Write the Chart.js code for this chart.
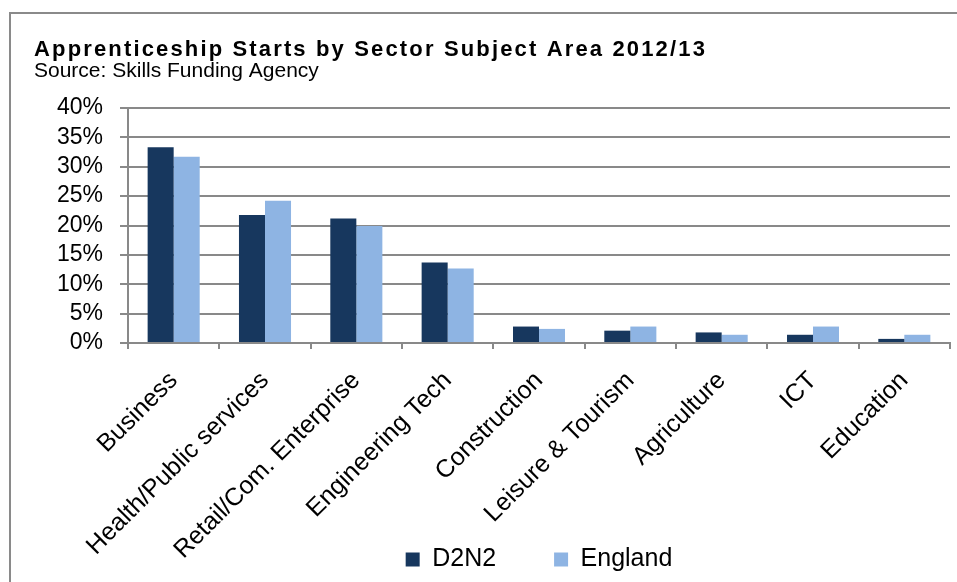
<!DOCTYPE html>
<html>
<head>
<meta charset="utf-8">
<title>Apprenticeship Starts by Sector Subject Area 2012/13</title>
<script src="https://cdn.jsdelivr.net/npm/chart.js@4.4.1/dist/chart.umd.min.js"></script>
<style>
  html, body { margin: 0; padding: 0; background: #fff; }
  #wrap { position: relative; width: 957px; height: 582px; overflow: hidden; }
  #frame {
    position: absolute; left: 9px; top: 12px; width: 1000px; height: 620px;
    border-top: 2px solid #8a8a8a; border-left: 2px solid #8a8a8a; background: #fff;
  }
  #main-chart { position: absolute; left: 0; top: 0; }
</style>
</head>
<body>
<div id="wrap">
  <div id="frame"></div>
  <canvas id="main-chart" width="957" height="582"></canvas>
</div>
<script>
// ── Data ──────────────────────────────────────────────────────────────────────
const categories = [
  "Business", "Health/Public services", "Retail/Com. Enterprise", "Engineering Tech",
  "Construction", "Leisure & Tourism", "Agriculture", "ICT", "Education"
];
const d2n2    = [33.3, 21.8, 21.2, 13.7, 2.8, 2.1, 1.8, 1.4, 0.7];
const england = [31.7, 24.2, 19.9, 12.7, 2.4, 2.8, 1.4, 2.8, 1.4];
const yTicks  = [0, 5, 10, 15, 20, 25, 30, 35, 40];

const FONT = "'Liberation Sans', Arial, sans-serif";
const GRID = "#898989";

// Title text is drawn with wider tracking, like the original workbook chart.
const spacedTitle = {
  id: "spacedTitle",
  beforeDraw(chart) {
    const block = chart.titleBlock;
    if (!block || block._spaced) return;
    const draw = block.draw.bind(block);
    block.draw = function () {
      const ctx = chart.ctx;
      ctx.save();
      ctx.letterSpacing = "2.15px";
      draw();
      ctx.letterSpacing = "0px";
      ctx.restore();
    };
    block._spaced = true;
  }
};

function renderChart() {
  const ctx = document.getElementById("main-chart");
  return new Chart(ctx, {
    type: "bar",
    data: {
      labels: categories,
      datasets: [
        { label: "D2N2",    data: d2n2,    backgroundColor: "#17375E" },
        { label: "England", data: england, backgroundColor: "#8EB4E3" },
      ],
    },
    plugins: [spacedTitle],
    options: {
      responsive: false,
      animation: false,
      devicePixelRatio: 1,
      layout: { padding: { left: 34, right: 7, top: 0, bottom: 0 } },
      datasets: { bar: { categoryPercentage: 0.57, barPercentage: 1.0 } },
      plugins: {
        tooltip: { enabled: false },
        title: {
          display: true,
          text: "Apprenticeship Starts by Sector Subject Area 2012/13",
          align: "start",
          color: "#000",
          font: { family: FONT, size: 22, weight: "bold", lineHeight: 1 },
          padding: { top: 39, bottom: 0 },
        },
        subtitle: {
          display: true,
          text: "Source: Skills Funding Agency",
          align: "start",
          color: "#000",
          font: { family: FONT, size: 21, lineHeight: 1 },
          padding: { top: 0, bottom: 26 },
        },
        legend: {
          position: "bottom",
          fullSize: false,
          labels: {
            color: "#000",
            boxWidth: 14,
            boxHeight: 14,
            padding: 58,
            font: { family: FONT, size: 25 },
          },
        },
      },
      scales: {
        x: {
          offset: true,
          grid: { drawOnChartArea: false, drawTicks: true, tickLength: 6, color: GRID, lineWidth: 2, offset: true },
          border: { color: GRID, width: 2 },
          ticks: {
            color: "#000", font: { family: FONT, size: 25 },
            minRotation: 45, maxRotation: 45, autoSkip: false, padding: 17,
          },
          afterFit(scale) {
            scale.height = 146;
            // long rotated names run past the axis box into the legend band
            scale._computeLabelArea = () => null;
          },
        },
        y: {
          min: 0, max: 40,
          afterBuildTicks(scale) { scale.ticks = yTicks.map(v => ({ value: v })); },
          grid: { color: GRID, lineWidth: 2, tickLength: 8 },
          border: { color: GRID, width: 2 },
          ticks: {
            color: "#000", font: { family: FONT, size: 23 }, padding: 17, autoSkip: false,
            callback: v => v + "%",
          },
          afterFit(scale) { scale.width = 94; },
        },
      },
    },
  });
}

document.addEventListener("DOMContentLoaded", renderChart);
</script>
</body>
</html>
